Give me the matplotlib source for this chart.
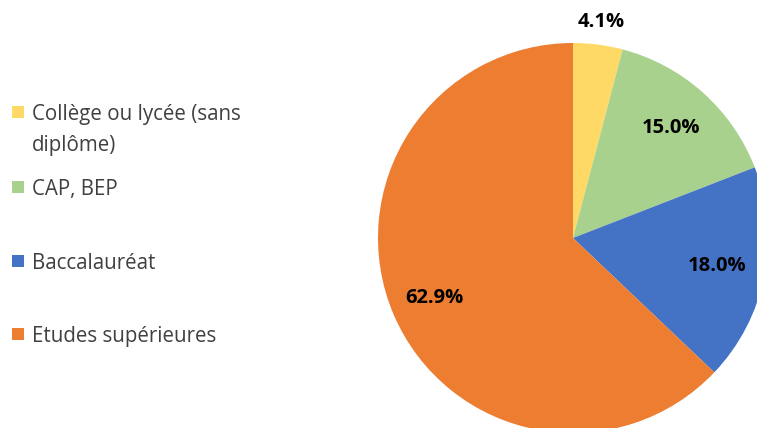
import matplotlib.pyplot as plt
import numpy as np

# diploma shares (%)
categories = ["Collège ou lycée (sans\ndiplôme)", "CAP, BEP", "Baccalauréat", "Etudes supérieures"]
shares = [4.1, 15.0, 18.0, 62.9]
colours = ["#FFD966", "#A9D18E", "#4472C4", "#ED7D31"]

plt.rcParams['font.family'] = ['Open Sans', 'DejaVu Sans']

fig = plt.figure(figsize=(7.57, 4.28), dpi=100)
ax = fig.add_axes([0, 0, 1, 1])

cx, cy, R = 573, 190, 195
wedges, _ = ax.pie(shares, colors=colours, startangle=90, counterclock=False,
                   center=(cx, cy), radius=R)
ax.set_xlim(0, 757)
ax.set_ylim(0, 428)
ax.set_aspect('equal')
ax.axis('off')

# value labels, the small slice gets its label outside
label_r = [1.115, 0.755, 0.755, 0.775]
for w, v, r in zip(wedges, shares, label_r):
    mid = np.deg2rad((w.theta1 + w.theta2) / 2)
    ax.text(cx + r * R * np.cos(mid), cy + r * R * np.sin(mid), f"{v:.1f}%",
            ha='center', va='center', fontsize=14.5, fontweight='bold', color='black')

# legend on the left, one text per line so the marker sits on the first line
legend_y = [316, 241, 167, 94]
for lab, col, y in zip(categories, colours, legend_y):
    ax.add_patch(plt.Rectangle((12, y - 6), 12, 12, color=col, lw=0))
    for i, line in enumerate(lab.split("\n")):
        ax.text(32, y - 31 * i, line, ha='left', va='center_baseline', fontsize=14.8,
                color='#404040')

fig.savefig("out.png", dpi=100)
